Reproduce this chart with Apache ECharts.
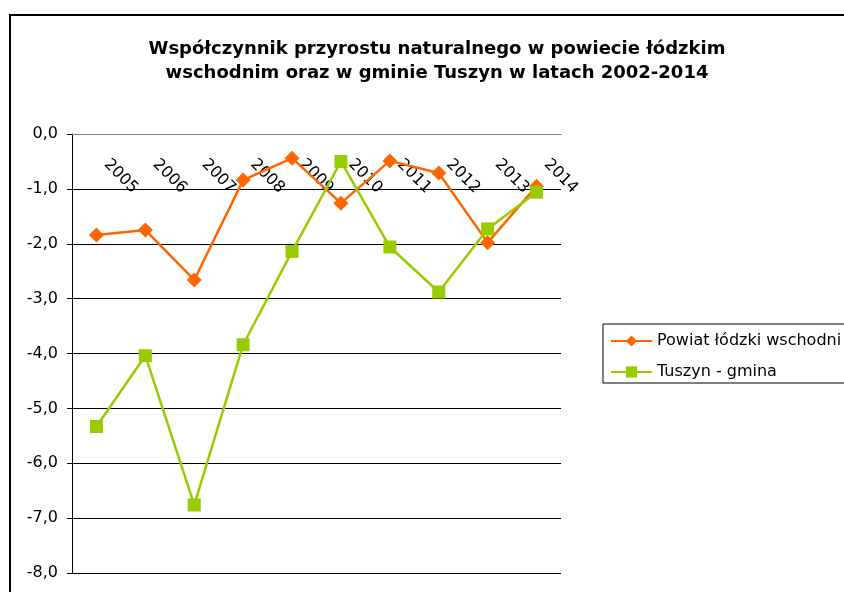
<!DOCTYPE html>
<html>
<head>
<meta charset="utf-8">
<script src="https://cdn.jsdelivr.net/npm/echarts@6/dist/echarts.min.js"></script>
<style>
  html, body { margin:0; padding:0; background:#fff; }
  #chart { width:844px; height:592px; }
</style>
</head>
<body>
<div id="chart"></div>
<script>
// dane
const years = ["2005","2006","2007","2008","2009","2010","2011","2012","2013","2014"];
const powiat = [-1.84,-1.75,-2.66,-0.84,-0.44,-1.26,-0.49,-0.71,-1.98,-0.95];
const tuszyn = [-5.33,-4.04,-6.76,-3.84,-2.14,-0.50,-2.06,-2.88,-1.73,-1.06];

const font = "'DejaVu Sans', sans-serif";
const fmt = v => v.toFixed(1).replace(".", ",");

const chart = echarts.init(document.getElementById("chart"));
chart.setOption({
  animation: false,
  textStyle: { fontFamily: font },
  // ramka wykresu (ucięta z prawej i u dołu)
  graphic: [{
    type: "rect", silent: true,
    shape: { x: 10, y: 15, width: 900, height: 700 },
    style: { fill: "none", stroke: "#000", lineWidth: 2 }
  }],
  title: {
    text: "Współczynnik przyrostu naturalnego w powiecie łódzkim\nwschodnim oraz w gminie Tuszyn w latach 2002-2014",
    left: 437, top: 37, textAlign: "center", padding: 0,
    textStyle: { fontFamily: font, fontSize: 18, fontWeight: "bold", color: "#000", lineHeight: 24 }
  },
  legend: {
    orient: "vertical", left: 603, top: 324,
    padding: [9, 60, 3, 7], itemWidth: 41, itemHeight: 14, itemGap: 15,
    borderColor: "#000", borderWidth: 1,
    textStyle: { fontFamily: font, fontSize: 16, color: "#000" },
    data: ["Powiat łódzki wschodni", "Tuszyn - gmina"]
  },
  grid: { left: 72, right: 283, top: 134, bottom: 19, containLabel: false, outerBoundsMode: "none" },
  xAxis: {
    type: "category", data: years, boundaryGap: true, position: "top",
    axisLine: { lineStyle: { color: "#808080", width: 1 } },
    axisTick: { inside: true, length: 5, lineStyle: { color: "#808080" } },
    axisLabel: { inside: true, rotate: -45, margin: 18, padding: [0, 0, 0, 14], fontSize: 16, color: "#000", fontFamily: font }
  },
  yAxis: {
    type: "value", min: -8, max: 0, interval: 1,
    axisLine: { show: true, lineStyle: { color: "#000", width: 1 } },
    axisTick: { show: true, length: 5, lineStyle: { color: "#000" } },
    axisLabel: { formatter: fmt, fontSize: 16, color: "#000", margin: 14, fontFamily: font },
    splitLine: { lineStyle: { color: "#000", width: 1 } }
  },
  series: [
    {
      name: "Powiat łódzki wschodni", type: "line", data: powiat,
      symbol: "diamond", symbolSize: 15,
      lineStyle: { color: "#FF6600", width: 2.5 },
      itemStyle: { color: "#FF6600" }
    },
    {
      name: "Tuszyn - gmina", type: "line", data: tuszyn,
      symbol: "rect", symbolSize: 13,
      lineStyle: { color: "#99CC00", width: 2.5 },
      itemStyle: { color: "#99CC00" }
    }
  ]
});
</script>
</body>
</html>
